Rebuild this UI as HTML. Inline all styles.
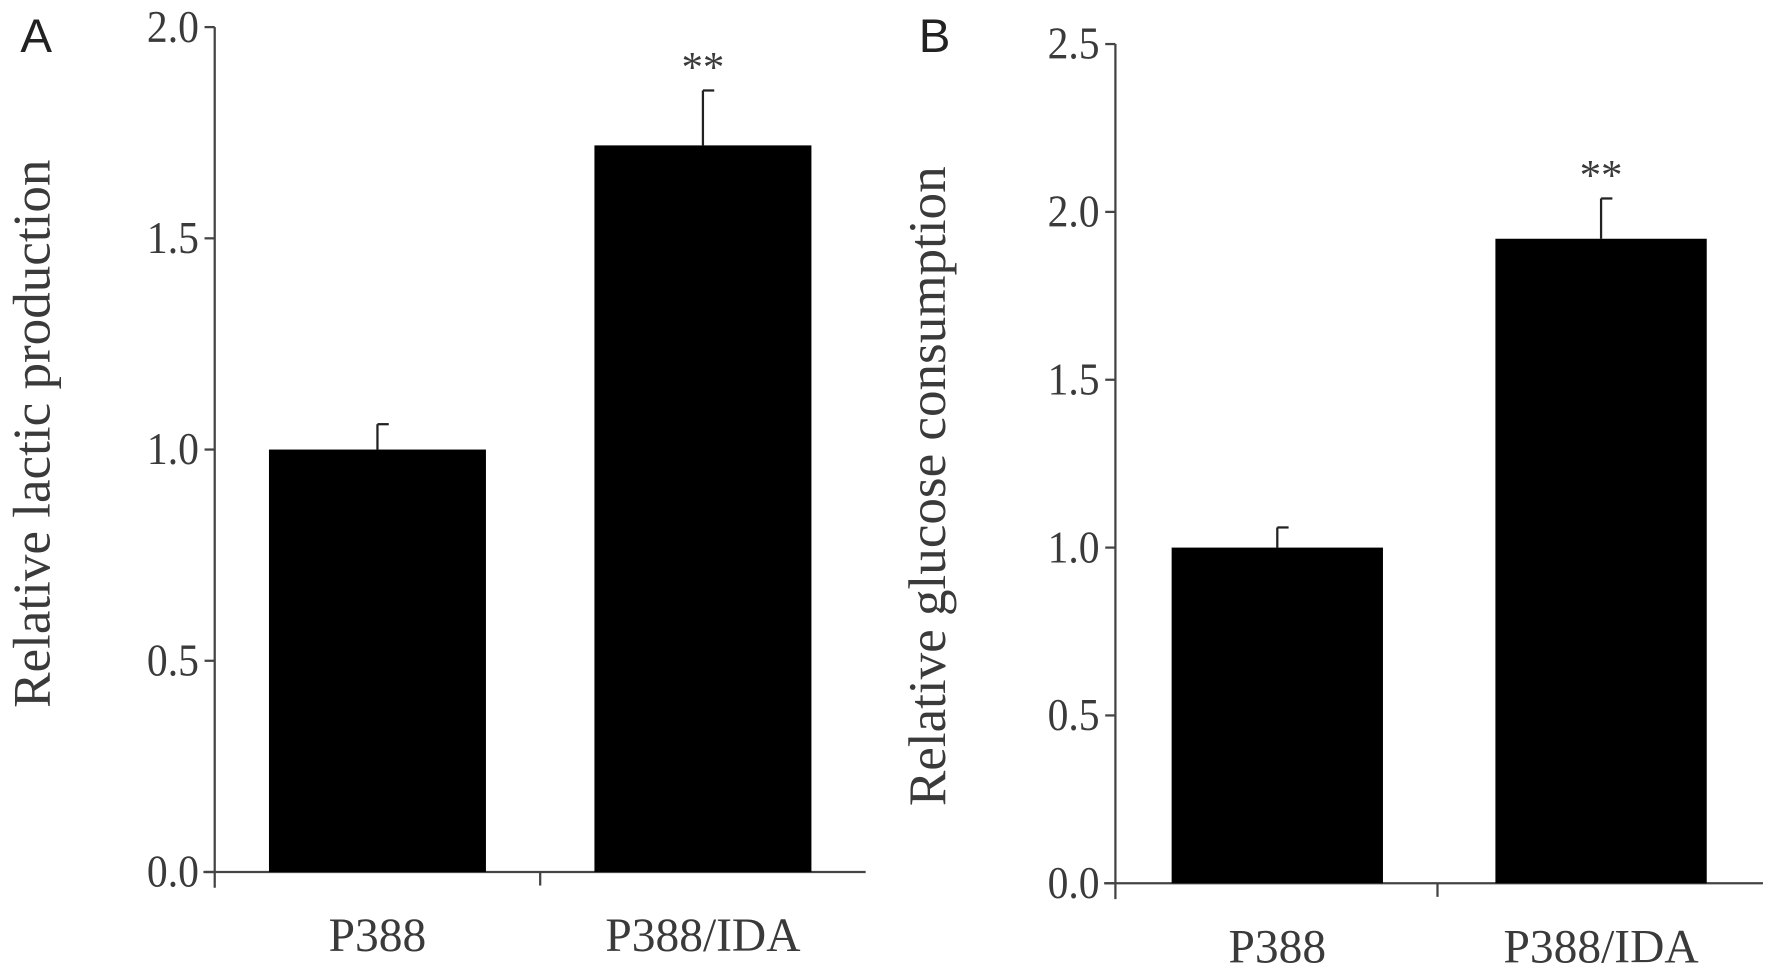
<!DOCTYPE html>
<html><head><meta charset="utf-8"><style>
html,body{margin:0;padding:0;background:#fff;}
svg{display:block;}
text{font-family:"Liberation Serif",serif;fill:#3a3a3a;}
.lbl{font-family:"Liberation Sans",sans-serif;fill:#222;}
</style></head><body>
<svg id="fig" width="1772" height="968" viewBox="0 0 1568 857" preserveAspectRatio="none" xmlns="http://www.w3.org/2000/svg"></svg>
<script>
const categories = ["P388", "P388/IDA"];
const lacticValues = [1.0, 1.72];
const lacticErrors = [0.06, 0.13];
const glucoseValues = [1.0, 1.92];
const glucoseErrors = [0.06, 0.12];
const lacticTicks = ["0.0","0.5","1.0","1.5","2.0"];
const glucoseTicks = ["0.0","0.5","1.0","1.5","2.0","2.5"];
const sigMarks = ["", "**"];

const NS = "http://www.w3.org/2000/svg";
const svg = document.getElementById('fig');
function mk(tag, attrs, parent){const e=document.createElementNS(NS,tag);for(const k in attrs)e.setAttribute(k,attrs[k]);(parent||svg).appendChild(e);return e;}

function panel(cfg){
  const g = mk('g',{});
  
  
  const y = v => cfg.y0 - (v/cfg.max)*(cfg.y0-cfg.yTop);
  const ya = mk('line',{x1:cfg.ax,y1:cfg.yTop,x2:cfg.ax,y2:cfg.y0+14,stroke:'#444','stroke-width':2},g);
  
  
  cfg.ticks.forEach(t=>{
    const v=parseFloat(t), yy=y(v);
    mk('line',{x1:cfg.ax-9,y1:yy,x2:cfg.ax,y2:yy,stroke:'#444','stroke-width':2},g);
    const tx = mk('text',{x:cfg.ax-14,y:yy+13,'text-anchor':'end','font-size':40,transform:`translate(${cfg.ax-14},0) scale(0.92,1) translate(${-(cfg.ax-14)},0)`},g);
    tx.textContent=t;
    
    
  });
  const xa = mk('line',{x1:cfg.ax-10,y1:cfg.y0,x2:cfg.xEnd,y2:cfg.y0,stroke:'#444','stroke-width':2},g);
  
  
  mk('line',{x1:cfg.xMid,y1:cfg.y0,x2:cfg.xMid,y2:cfg.y0+12,stroke:'#444','stroke-width':2},g);
  const slotW = (cfg.xEnd-cfg.ax)/categories.length;
  categories.forEach((c,i)=>{
    const cx = cfg.ax + slotW*(i+0.5);
    const v = cfg.values[i], e = cfg.errors[i];
    const bw = cfg.barW;
    const ex = cx;
    const eb = mk('line',{x1:ex,y1:y(v),x2:ex,y2:y(v+e),stroke:'#222','stroke-width':2},g);
    
    
    mk('line',{x1:ex,y1:y(v+e),x2:ex+10,y2:y(v+e),stroke:'#222','stroke-width':2},g);
    const b = mk('rect',{x:cx-bw/2,y:y(v),width:bw,height:cfg.y0-y(v),fill:'#000'},g);
    
    
    const lt = mk('text',{x:cx,y:cfg.y0+70,'text-anchor':'middle','font-size':42},g);
    lt.textContent=c;
    
    
    if(sigMarks[i]){
      const s = mk('text',{x:cx,y:y(v+e)-8,'text-anchor':'middle','font-size':38},g);
      s.textContent=sigMarks[i];
      
      
    }
  });
  const tt = mk('text',{transform:`translate(${cfg.titleX},${(cfg.yTop+cfg.y0)/2+cfg.titleDy}) rotate(-90)`,'text-anchor':'middle','font-size':47},g);
  tt.textContent=cfg.title;
  
  
  const pl = mk('text',{x:cfg.letterX,y:46,'font-size':42,'class':'lbl'},g);
  pl.textContent=cfg.letter;
  
  
}

panel({name:'panel-a-lactic',ax:190,yTop:24,y0:772,max:2.0,xEnd:766,xMid:478,barW:192,
  values:lacticValues,errors:lacticErrors,ticks:lacticTicks,title:'Relative lactic production',titleX:44,titleDy:-14,letter:'A',letterX:18});
panel({name:'panel-b-glucose',ax:987,yTop:39,y0:782,max:2.5,xEnd:1560,xMid:1272,barW:187,
  values:glucoseValues,errors:glucoseErrors,ticks:glucoseTicks,title:'Relative glucose consumption',titleX:836,titleDy:20,letter:'B',letterX:813});
</script>
</body></html>
